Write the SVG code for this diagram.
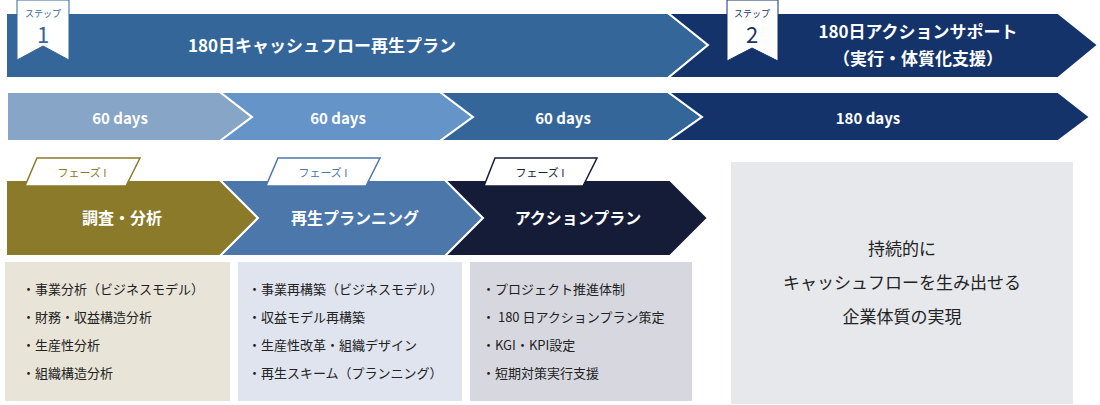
<svg xmlns="http://www.w3.org/2000/svg" width="1100" height="405" viewBox="0 0 1100 405">
<style>
text{font-family:"Noto Sans CJK JP","Noto Sans",sans-serif;}
.w{fill:#fff;font-weight:bold;text-anchor:middle;}
.chev{stroke:#fff;stroke-width:2;}
.li{font-size:13px;fill:#222;}
.tab{fill:#fff;stroke-width:1.5;}
.tabt{font-size:11px;text-anchor:middle;}
</style>
<rect width="1100" height="405" fill="#fff"/>
<g id="connectors"></g>
<g id="step1">
<polygon class="chev" points="6,13 668,13 708,45 668,78 6,78" fill="#35669a"/>
<text class="w" x="322" y="52" font-size="17">180日キャッシュフロー再生プラン</text>
<polygon points="17,0 69,0 69,60 43,46 17,60" fill="#fff" stroke="#35669a" stroke-width="1"/>
<text x="43" y="17" font-size="9" fill="#35669a" text-anchor="middle">ステップ</text>
<text x="43" y="43" font-size="22" fill="#35669a" text-anchor="middle" font-family="Liberation Serif,serif">1</text>
</g>
<g id="step2">
<polygon class="chev" points="668,13 1058,13 1098,45 1058,78 668,78 708,45" fill="#14336b"/>
<text class="w" x="918" y="38" font-size="17">180日アクションサポート</text>
<text class="w" x="918" y="65" font-size="17">（実行・体質化支援）</text>
<polygon points="727,0 778,0 778,61 752,48 727,61" fill="#fff" stroke="#14336b" stroke-width="1"/>
<text x="752" y="17" font-size="9" fill="#14336b" text-anchor="middle">ステップ</text>
<text x="752" y="43" font-size="22" fill="#14336b" text-anchor="middle" font-family="Liberation Serif,serif">2</text>
</g>
<g id="days1"><polygon class="chev" points="7,92 220,92 252,117 220,141 7,141" fill="#87a5c7"/><text class="w" x="120" y="124" font-size="15">60 days</text></g>
<g id="days2"><polygon class="chev" points="220,92 440,92 473,117 440,141 220,141 252,117" fill="#6595c8"/><text class="w" x="338" y="124" font-size="15">60 days</text></g>
<g id="days3"><polygon class="chev" points="440,92 668,92 702,117 668,141 440,141 473,117" fill="#35669a"/><text class="w" x="563" y="124" font-size="15">60 days</text></g>
<g id="days4"><polygon class="chev" points="668,92 1058,92 1090,117 1058,141 668,141 702,117" fill="#14336b"/><text class="w" x="868" y="124" font-size="15">180 days</text></g>
<g id="phase1">
<polygon class="chev" points="6,180 220,180 258,218 220,256 6,256" fill="#8a7a2a"/>
<polygon class="tab" points="37,158 140,158 126,186 25,186" stroke="#8a7a2a"/>
<text class="tabt" x="82" y="177" fill="#8a7a2a">フェーズ I</text>
<text class="w" x="122" y="224" font-size="16">調査・分析</text>
</g>
<g id="phase2">
<polygon class="chev" points="220,180 445,180 483,218 445,256 220,256 258,218" fill="#4c77aa"/>
<polygon class="tab" points="278,158 380,158 366,186 266,186" stroke="#4c77aa"/>
<text class="tabt" x="323" y="177" fill="#4c77aa">フェーズ I</text>
<text class="w" x="355" y="224" font-size="16">再生プランニング</text>
</g>
<g id="phase3">
<polygon class="chev" points="445,180 670,180 708,218 670,256 445,256 483,218" fill="#151c38"/>
<polygon class="tab" points="495,158 597,158 583,186 484,186" stroke="#151c38"/>
<text class="tabt" x="540" y="177" fill="#151c38">フェーズ I</text>
<text class="w" x="578" y="224" font-size="16">アクションプラン</text>
</g>
<g id="box1">
<rect x="5" y="262" width="225" height="139" fill="#e8e5d8"/>
<text class="li" x="22" y="294">・事業分析（ビジネスモデル）</text>
<text class="li" x="22" y="322">・財務・収益構造分析</text>
<text class="li" x="22" y="350">・生産性分析</text>
<text class="li" x="22" y="378">・組織構造分析</text>
</g>
<g id="box2">
<rect x="238" y="262" width="224" height="139" fill="#dfe4ee"/>
<text class="li" x="248" y="294">・事業再構築（ビジネスモデル）</text>
<text class="li" x="248" y="322">・収益モデル再構築</text>
<text class="li" x="248" y="350">・生産性改革・組織デザイン</text>
<text class="li" x="248" y="378">・再生スキーム（プランニング）</text>
</g>
<g id="box3">
<rect x="470" y="262" width="222" height="139" fill="#d7d8df"/>
<text class="li" x="482" y="294">・プロジェクト推進体制</text>
<text class="li" x="482" y="322">・ 180 日アクションプラン策定</text>
<text class="li" x="482" y="350">・KGI・KPI設定</text>
<text class="li" x="482" y="378">・短期対策実行支援</text>
</g>
<g id="goal">
<rect x="731" y="162" width="342" height="242" fill="#e6e8ec"/>
<text x="902" y="255" font-size="17" fill="#222" text-anchor="middle">持続的に</text>
<text x="902" y="289" font-size="17" fill="#222" text-anchor="middle">キャッシュフローを生み出せる</text>
<text x="902" y="323" font-size="17" fill="#222" text-anchor="middle">企業体質の実現</text>
</g>
</svg>
